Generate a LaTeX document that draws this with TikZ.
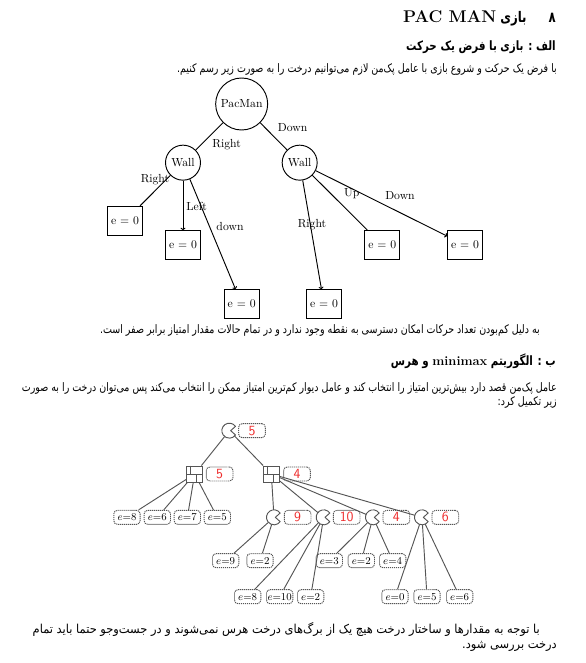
\documentclass[tikz,border=0pt]{standalone}
\usepackage{fontspec}
\usepackage{xcolor}
\usetikzlibrary{arrows.meta,positioning,calc}
\TeXXeTstate=1
\newfontfamily\farsi[Script=Arabic,FakeStretch=0.81]{DejaVu Sans}
\newfontfamily\farsilarge[Script=Arabic,FakeStretch=0.93]{DejaVu Sans}
\newfontfamily\farsihead[Script=Arabic,FakeStretch=0.8]{DejaVu Sans}
\definecolor{treegray}{HTML}{555555}
\definecolor{scorered}{HTML}{EE2B2B}
\newcommand{\fa}[1]{\beginR #1\endR}
\newcommand{\la}[1]{\beginL #1\endL{}}

\begin{document}
\begin{tikzpicture}[
	on grid,
	body/.style={anchor=east,inner sep=0pt,font=\fontsize{10}{12}\selectfont\farsi},
	bodylarge/.style={anchor=east,inner sep=0pt,font=\fontsize{10.5}{12}\selectfont\farsilarge},
	sub/.style={anchor=east,inner sep=0pt,font=\fontsize{11}{13}\selectfont\farsihead\bfseries},
	state/.style={draw,thick,circle,inner sep=0pt,minimum size=1.05cm},
	root/.style={draw,thick,circle,inner sep=0pt,minimum size=1.56cm},
	zero/.style={draw,thick,inner sep=0pt,minimum width=1.05cm,minimum height=0.87cm},
	lab/.style={inner sep=0pt},
	link/.style={thick},
	linkto/.style={thick,-{To[length=2pt]}},
	pac/.style={circle,inner sep=0pt,outer sep=0pt,minimum size=0.45cm},
	wall/.style={draw=treegray,thick,inner sep=0pt,minimum size=0.48cm},
	score/.style={draw=treegray,dash pattern=on 1pt off 0.7pt,thick,rounded corners=3pt,minimum width=0.8cm,minimum height=0.42cm,inner sep=0pt,text=scorered,font=\sffamily\large},
	leaf/.style={draw=treegray,dash pattern=on 1pt off 0.7pt,thick,rounded corners=3pt,minimum width=0.79cm,minimum height=0.42cm,inner sep=0pt,font=\small},
	tree/.style={draw=treegray,thick}
	]
	\useasboundingbox (0,0) rectangle (17.55,-19.89);

	% text of the page
	\node[sub,font=\fontsize{12.5}{15}\selectfont\farsihead\bfseries] (title) at (16.68,-0.54) {\fa{۸\hspace{0.66cm}بازی \la{{\fontsize{14.5}{16}\selectfont\normalfont\bfseries PAC MAN}}}};
	\node[sub] (parta) at (16.68,-1.41) {\fa{الف : بازی با فرض یک حرکت}};
	\node[body] (introa) at (16.71,-2.07) {\fa{با فرض یک حرکت و شروع بازی با عامل پک‌من لازم می‌توانیم درخت را به صورت زیر رسم کنیم.}};
	\node[body] (outa) at (16.2,-9.9) {\fa{به دلیل کم‌بودن تعداد حرکات امکان دسترسی به نقطه وجود ندارد و در تمام حالات مقدار امتیاز برابر صفر است.}};
	\node[sub] (partb) at (16.68,-10.83) {\fa{ب : الگوریتم \la{{\normalfont\bfseries minimax}} و هرس}};
	\node[body] (introb) at (16.71,-11.64) {\fa{عامل پک‌من قصد دارد بیش‌ترین امتیاز را انتخاب کند و عامل دیوار کم‌ترین امتیاز ممکن را انتخاب می‌کند پس می‌توان درخت را به صورت}};
	\node[body] (introc) at (16.71,-12.06) {\fa{زیر تکمیل کرد:}};
	\node[bodylarge] (outb) at (16.2,-18.87) {\fa{با توجه به مقدارها و ساختار درخت هیچ یک از برگ‌های درخت هرس نمی‌شوند و در جست‌وجو حتما باید تمام}};
	\node[bodylarge] (outc) at (16.71,-19.38) {\fa{درخت بررسی شود.}};

	% first tree
	\node[root] (p) at (7.25,-3.12) {PacMan};
	\node[state] (wl) [below left=1.76cm and 1.76cm of p] {Wall};
	\node[state] (wr) [below right=1.76cm and 1.74cm of p] {Wall};
	\node[zero] (b1) [below left=1.75cm and 1.74cm of wl] {e = 0};
	\node[zero] (b2) [below=2.47cm of wl] {e = 0};
	\node[zero] (b3) [below right=4.24cm and 1.76cm of wl] {e = 0};
	\node[zero] (b4) [below right=4.24cm and 0.73cm of wr] {e = 0};
	\node[zero] (b5) [below right=2.47cm and 2.48cm of wr] {e = 0};
	\node[zero] (b6) [below right=2.47cm and 4.96cm of wr] {e = 0};
	\draw[link] (p) -- (wl);
	\draw[link] (p) -- (wr);
	\draw[link] (wl) -- (b1);
	\draw[linkto] (wl) -- (b2);
	\draw[linkto] (wl) -- (b3);
	\draw[linkto] (wr) -- (b4);
	\draw[link] (wr) -- (b5);
	\draw[linkto] (wr) -- (b6);
	\node[lab] (l1) [below left=1.23cm and 0.45cm of p] {Right};
	\node[lab] (l2) [below right=0.72cm and 1.53cm of p] {Down};
	\node[lab] (l3) [below left=0.52cm and 0.84cm of wl] {Right};
	\node[lab] (l4) [below right=1.3cm and 0.41cm of wl] {Left};
	\node[lab] (l5) [below right=1.9cm and 1.41cm of wl] {down};
	\node[lab] (l6) [below right=1.85cm and 0.37cm of wr] {Right};
	\node[lab] (l7) [below right=0.92cm and 1.56cm of wr] {Up};
	\node[lab] (l8) [below right=0.98cm and 3.01cm of wr] {Down};

	% second tree
	\node[pac] (pr) at (6.88,-12.92) {};
	\node[score] (sr) [right=0.68cm of pr] {5};
	\node[wall] (wa) [below left=1.3cm and 1.04cm of pr] {};
	\node[score] (sa) [right=0.75cm of wa] {5};
	\node[wall] (wb) [below right=1.3cm and 1.26cm of pr] {};
	\node[score] (sb) [right=0.77cm of wb] {4};
	\node[leaf] (e1) [below left=1.3cm and 2.03cm of wa] {$e{=}8$};
	\node[leaf] (e2) [right=0.91cm of e1] {$e{=}6$};
	\node[leaf] (e3) [right=0.9cm of e2] {$e{=}7$};
	\node[leaf] (e4) [right=0.9cm of e3] {$e{=}5$};
	\node[pac] (pa) [below right=1.3cm and 0.08cm of wb] {};
	\node[score] (s1) [right=0.71cm of pa] {9};
	\node[pac] (pb) [right=1.49cm of pa] {};
	\node[score] (s2) [right=0.69cm of pb] {10};
	\node[pac] (pc) [right=1.48cm of pb] {};
	\node[score] (s3) [right=0.7cm of pc] {4};
	\node[pac] (pd) [right=1.47cm of pc] {};
	\node[score] (s4) [right=0.7cm of pd] {6};
	\node[leaf] (e5) [below left=1.3cm and 1.45cm of pa] {$e{=}9$};
	\node[leaf] (e6) [below left=1.3cm and 0.42cm of pa] {$e{=}2$};
	\node[leaf] (e7) [below left=2.38cm and 2.28cm of pb] {$e{=}8$};
	\node[leaf] (e8) [right=0.96cm of e7] {$e{=}10$};
	\node[leaf] (e9) [right=0.93cm of e8] {$e{=}2$};
	\node[leaf] (e10) [below left=1.3cm and 1.31cm of pc] {$e{=}3$};
	\node[leaf] (e11) [right=0.96cm of e10] {$e{=}2$};
	\node[leaf] (e12) [right=0.94cm of e11] {$e{=}4$};
	\node[leaf] (e13) [below left=2.38cm and 0.81cm of pd] {$e{=}0$};
	\node[leaf] (e14) [right=0.96cm of e13] {$e{=}5$};
	\node[leaf] (e15) [right=0.98cm of e14] {$e{=}6$};
	\foreach \a/\b in {pr/wa,pr/wb,wa/e1,wa/e2,wa/e3,wa/e4,wb/pa,wb/pb,wb/pc,wb/pd,pa/e5,pa/e6,pb/e7,pb/e8,pb/e9,pc/e10,pc/e11,pc/e12,pd/e13,pd/e14,pd/e15}
		\draw[tree] (\a) -- (\b);
	\foreach \n in {pr,pa,pb,pc,pd}
		\draw[tree,line join=round] (\n.35) arc[start angle=35,end angle=325,radius=0.225cm] -- ($(\n.center)+(0.04,0)$) -- cycle;
	\foreach \n in {wa,wb}{
		\draw[tree] (\n.west) -- (\n.east);
		\draw[tree] ($(\n.north west)!0.28!(\n.north east)$) -- ($(\n.west)!0.28!(\n.east)$);
		\draw[tree] ($(\n.west)!0.62!(\n.east)$) -- ($(\n.south west)!0.62!(\n.south east)$);
	}
\end{tikzpicture}
\end{document}
